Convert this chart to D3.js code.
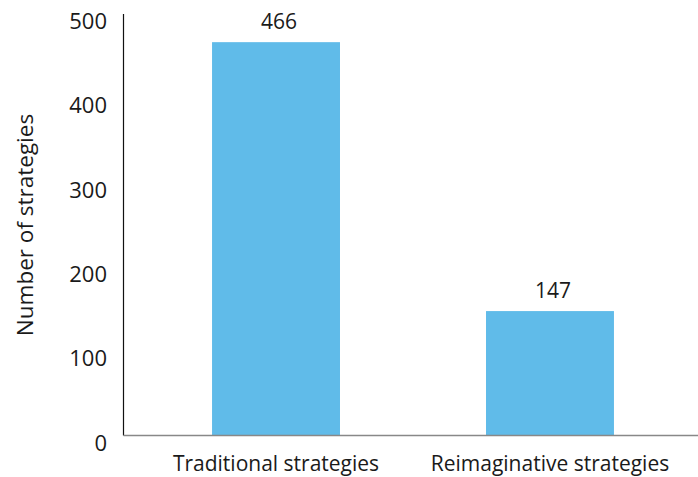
<!DOCTYPE html>
<html>
<head>
<meta charset="utf-8">
<script src="https://cdn.jsdelivr.net/npm/d3@7"></script>
<style>
  body { margin: 0; background: #fff; }
  svg { display: block; }
  text { font-family: "Open Sans", "DejaVu Sans", sans-serif; fill: #1a1a1a; }
</style>
</head>
<body>
<div id="wrapper"></div>
<script>
const categories = ["Traditional strategies", "Reimaginative strategies"]
const values = [466, 147]
const yTicks = [0, 100, 200, 300, 400, 500]
const yTitle = "Number of strategies"

function drawBarChart(){
    let dimensions = {
        width: 698,
        height: 477,
        margin: { top: 13.5, right: -5, bottom: 42, left: 123 },
    }
    dimensions.boundedWidth = dimensions.width - dimensions.margin.left - dimensions.margin.right
    dimensions.boundedHeight = dimensions.height - dimensions.margin.top - dimensions.margin.bottom

    const dataset = categories.map((c, i) => ({ category: c, value: values[i] }))
    const xAccessor = d => d.category
    const yAccessor = d => d.value

    const wrapper = d3.select("#wrapper")
        .append("svg")
        .attr("width", dimensions.width)
        .attr("height", dimensions.height)

    const bounds = wrapper.append("g")
        .attr("transform", `translate(${dimensions.margin.left},${dimensions.margin.top})`)

    const xScale = d3.scaleBand()
        .domain(categories)
        .range([0, dimensions.boundedWidth])
        .paddingInner(0.533)
        .paddingOuter(0.325)

    const yScale = d3.scaleLinear()
        .domain([0, 500])
        .range([dimensions.boundedHeight, 0])

    // bars
    bounds.selectAll("rect.bar")
        .data(dataset)
        .join("rect")
        .attr("class", "bar")
        .attr("x", d => xScale(xAccessor(d)))
        .attr("width", xScale.bandwidth())
        .attr("y", d => yScale(yAccessor(d)))
        .attr("height", d => dimensions.boundedHeight - yScale(yAccessor(d)))
        .attr("fill", "#60bbe9")

    // value labels (sit a touch right of centre in the original)
    bounds.selectAll("text.value")
        .data(dataset)
        .join("text")
        .attr("class", "value")
        .attr("x", d => xScale(xAccessor(d)) + xScale.bandwidth() / 2 + 3)
        .attr("y", d => yScale(yAccessor(d)) - 13)
        .attr("text-anchor", "middle")
        .style("font-size", "21px")
        .text(d => yAccessor(d))

    // y axis
    const yAxis = bounds.append("g")
        .call(d3.axisLeft(yScale).tickValues(yTicks).tickSize(0).tickPadding(16))
    yAxis.select(".domain").attr("stroke", "#111").attr("stroke-width", 1.2)
    yAxis.selectAll(".tick text")
        .attr("dy", "0.69em")
        .style("font-size", "22px")
        .style("font-family", "'Open Sans', sans-serif")
        .style("fill", "#1a1a1a")

    // x axis
    const xAxis = bounds.append("g")
        .attr("transform", `translate(0,${dimensions.boundedHeight})`)
        .call(d3.axisBottom(xScale).tickSize(0).tickPadding(21))
    xAxis.select(".domain").attr("stroke", "#888").attr("stroke-width", 1.5)
    xAxis.selectAll(".tick text")
        .style("font-size", "21px")
        .style("font-family", "'Open Sans', sans-serif")
        .style("fill", "#1a1a1a")

    // y title
    wrapper.append("text")
        .attr("transform", "translate(33,225) rotate(-90)")
        .attr("text-anchor", "middle")
        .style("font-size", "22.5px")
        .text(yTitle)
}
drawBarChart()
</script>
</body>
</html>
